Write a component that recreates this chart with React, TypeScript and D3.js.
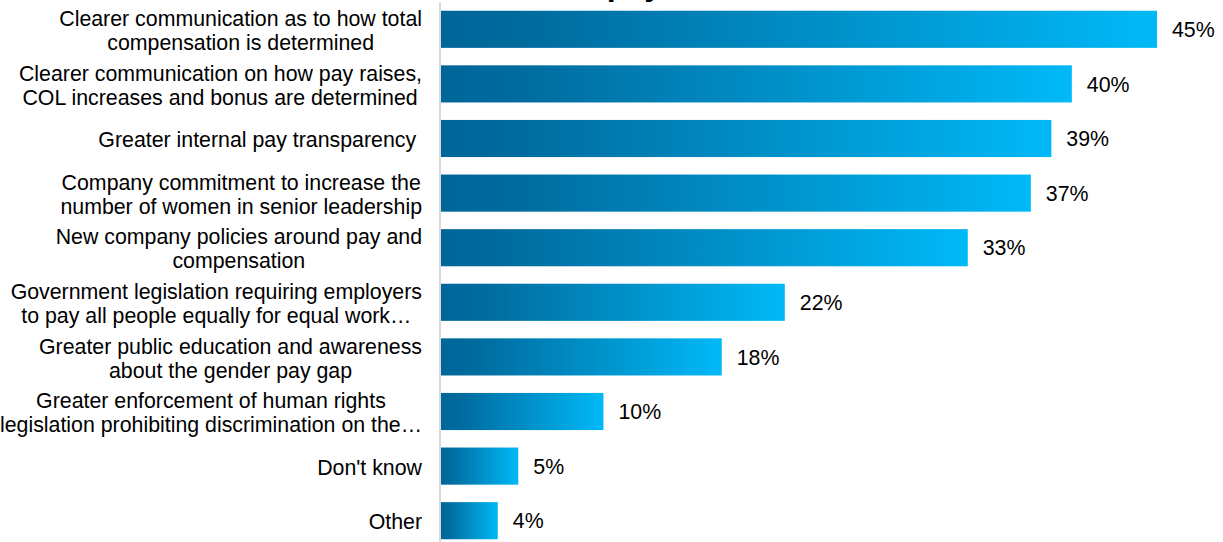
import React, { useMemo } from "react";
import * as d3 from "d3";

const categories: string[] = [
  "Clearer communication as to how total\ncompensation is determined",
  "Clearer communication on how pay raises,\nCOL increases and bonus are determined",
  "Greater internal pay transparency ",
  "Company commitment to increase the\nnumber of women in senior leadership",
  "New company policies around pay and\ncompensation",
  "Government legislation requiring employers\nto pay all people equally for equal work…",
  "Greater public education and awareness\nabout the gender pay gap",
  "Greater enforcement of human rights\nlegislation prohibiting discrimination on the…",
  "Don't know",
  "Other",
];
// estimated unrounded shares (bar lengths), labels show rounded values
const values: number[] = [45.4, 40.0, 38.7, 37.4, 33.4, 21.8, 17.8, 10.3, 4.9, 3.6];
const valueLabels: string[] = ["45%", "40%", "39%", "37%", "33%", "22%", "18%", "10%", "5%", "4%"];
const title = "Most effective actions to eliminate unfair pay";

const W = 1223;
const H = 542;
const FONT = '"Liberation Sans", Arial, Helvetica, sans-serif';
const FS = 21.33;

export default function App() {
  const x = d3.scaleLinear().domain([0, 45.4]).range([441, 1157]);
  const y = d3
    .scaleBand<number>()
    .domain(d3.range(categories.length))
    .range([2, 548])
    .paddingInner(0.32)
    .paddingOuter(0.16);

  const measure = useMemo(() => {
    const c = document.createElement("canvas");
    const ctx = c.getContext("2d")!;
    ctx.font = `${FS}px ${FONT}`;
    return (s: string) => ctx.measureText(s).width;
  }, []);

  const labelRight = 422;
  const lineH = 24;

  return (
    <svg
      width={W}
      height={H}
      style={{ position: "absolute", left: 0, top: 0, background: "#fff" }}
      fontFamily={FONT}
    >
      <defs>
        <linearGradient id="barGrad" x1="0" y1="0" x2="1" y2="0">
          <stop offset="0" stopColor="#00669a" />
          <stop offset="0.12" stopColor="#006b9e" />
          <stop offset="1" stopColor="#00b9f7" />
        </linearGradient>
      </defs>
      <text
        x={662}
        y={-5.5}
        textAnchor="end"
        fontSize={32}
        fontWeight="bold"
        fill="#000"
      >
        {title}
      </text>
      <line x1={440} x2={440} y1={2} y2={H} stroke="#d9d9d9" strokeWidth={2} />
      {values.map((v, i) => {
        const y0 = y(i)!;
        const bw = y.bandwidth();
        const cy = y0 + bw / 2;
        const lines = categories[i].split("\n");
        const widths = lines.map(measure);
        const maxW = Math.max(...widths);
        const center = labelRight - maxW / 2;
        return (
          <g key={i}>
            <rect
              x={x(0)}
              y={y0}
              width={x(v) - x(0)}
              height={bw}
              fill="url(#barGrad)"
            />
            <text
              x={x(v) + 15}
              y={cy}
              dy="0.36em"
              fontSize={FS}
              fill="#000"
            >
              {valueLabels[i]}
            </text>
            {lines.map((ln, j) => (
              <text
                key={j}
                x={center - widths[j] / 2}
                y={cy + (j - (lines.length - 1) / 2) * lineH + 1}
                dy="0.36em"
                fontSize={FS}
                fill="#000"
                style={{ whiteSpace: "pre" }}
              >
                {ln}
              </text>
            ))}
          </g>
        );
      })}
    </svg>
  );
}
